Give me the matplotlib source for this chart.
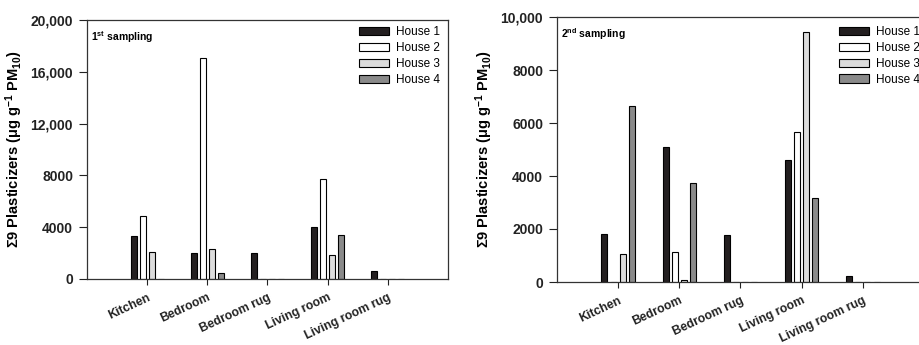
import matplotlib
matplotlib.use("Agg")
import matplotlib.pyplot as plt
import numpy as np

plt.rcParams['font.family'] = ['Liberation Sans', 'DejaVu Sans']
plt.rcParams['mathtext.fontset'] = 'custom'
plt.rcParams['mathtext.rm'] = 'Liberation Sans:bold'
plt.rcParams['mathtext.bf'] = 'Liberation Sans:bold'
plt.rcParams['mathtext.it'] = 'Liberation Sans:bold'
plt.rcParams['mathtext.default'] = 'rm'

categories = ["Kitchen", "Bedroom", "Bedroom rug", "Living room", "Living room rug"]
houses = ["House 1", "House 2", "House 3", "House 4"]

# 1st sampling
s1_house1 = [3300, 2000, 2000, 4000, 600]
s1_house2 = [4900, 17100, 0, 7700, 0]
s1_house3 = [2100, 2300, 0, 1850, 0]
s1_house4 = [0, 500, 0, 3370, 0]

# 2nd sampling
s2_house1 = [1800, 5090, 1760, 4590, 210]
s2_house2 = [0, 1120, 0, 5660, 0]
s2_house3 = [1070, 70, 0, 9420, 0]
s2_house4 = [6650, 3720, 0, 3170, 0]

s1_ticks = [0, 4000, 8000, 12000, 16000, 20000]
s1_ticklabels = ["0", "4000", "8000", "12,000", "16,000", "20,000"]
s2_ticks = [0, 2000, 4000, 6000, 8000, 10000]
s2_ticklabels = ["0", "2000", "4000", "6000", "8000", "10,000"]

colors = ['#231f20', '#ffffff', '#dcdcdc', '#8a8a8a']

W, H = 920, 345
fig = plt.figure(figsize=(9.2, 3.45), dpi=100)
ax1 = fig.add_axes([87 / W, (H - 279) / H, 361 / W, 259 / H])
ax2 = fig.add_axes([557 / W, (H - 282) / H, 367 / W, 265 / H])

ylabel = r"$\Sigma$9 Plasticizers ($\mu$g g$^{-1}$ PM$_{10}$)"

def draw(ax, series, ymax, ticks, ticklabels, tag, leg_anchor):
    x = np.arange(len(categories))
    width = 0.1
    offsets = [-0.225, -0.075, 0.075, 0.225]
    for vals, off, c, lab in zip(series, offsets, colors, houses):
        ax.bar(x + off, vals, width, color=c, edgecolor='black', linewidth=0.8, label=lab)
    ax.set_xlim(-1, 5)
    ax.set_ylim(0, ymax)
    ax.set_yticks(ticks)
    ax.set_yticklabels(ticklabels, fontsize=10, fontweight='bold')
    ax.set_xticks(x)
    ax.set_xticklabels(categories, fontsize=8.8, fontweight='bold', rotation=25,
                       ha='right', va='top', rotation_mode='anchor')
    ax.tick_params(axis='y', direction='out', length=6, width=0.8, pad=4, colors='#222222')
    ax.tick_params(axis='x', direction='out', length=4, width=0.8, pad=5, colors='#222222')
    for sp in ax.spines.values():
        sp.set_linewidth(0.9)
        sp.set_color('#333333')
    ax.set_ylabel(ylabel, fontsize=10.5, fontweight='bold', labelpad=4)
    ax.text(0.012, 0.965, tag, transform=ax.transAxes, fontsize=7.5, fontweight='bold',
            ha='left', va='top')
    ax.legend(loc='upper left', bbox_to_anchor=leg_anchor, frameon=False, fontsize=8.5,
              handlelength=2.56, handleheight=0.7, handletextpad=0.6, labelspacing=0.32,
              borderpad=0, borderaxespad=0)

draw(ax1, [s1_house1, s1_house2, s1_house3, s1_house4], 20000, s1_ticks, s1_ticklabels,
     r"1$^{\mathrm{st}}$ sampling", (0.753, 0.975))
draw(ax2, [s2_house1, s2_house2, s2_house3, s2_house4], 10000, s2_ticks, s2_ticklabels,
     r"2$^{\mathrm{nd}}$ sampling", (0.768, 0.965))

fig.savefig("out.png", dpi=100)
